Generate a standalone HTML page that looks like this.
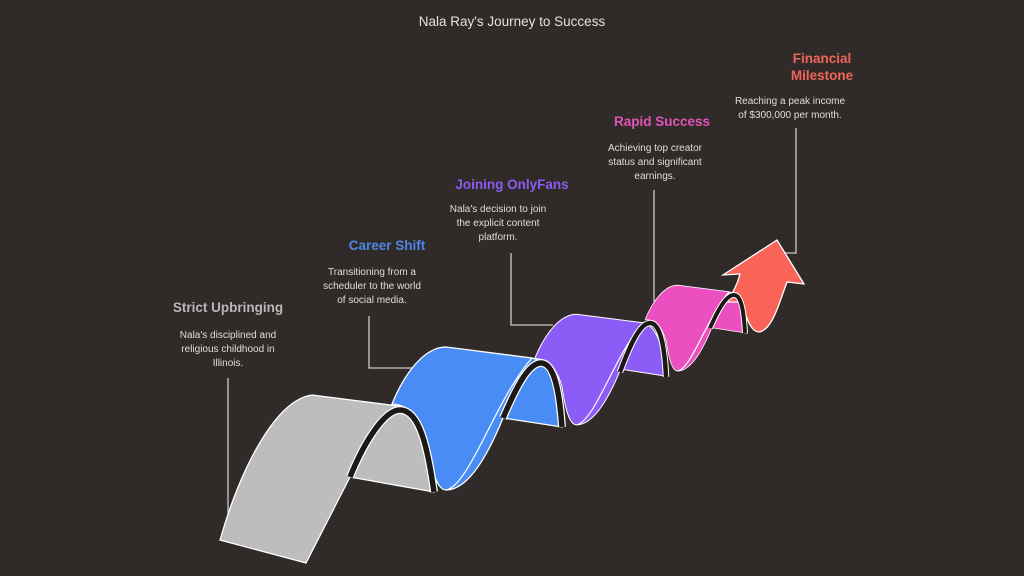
<!DOCTYPE html>
<html><head><meta charset="utf-8"><style>
html,body{margin:0;padding:0;background:#302a28;}
svg{display:block;font-family:"Liberation Sans",sans-serif;}
.d{fill:#e0dcd8;font-size:10px;text-anchor:middle;}
.h{font-size:13.5px;font-weight:bold;text-anchor:middle;}
.l{stroke:#cfcac6;stroke-width:1.3;fill:none;}
.aw{fill:none;stroke:#fff;stroke-width:8;}
.ad{fill:none;stroke:#1c1917;stroke-width:5.5;}
</style></head><body>
<svg width="1024" height="576" viewBox="0 0 1024 576">
<rect width="1024" height="576" fill="#302a28"/>
<text x="512" y="26" fill="#e6e2de" font-size="13.5" text-anchor="middle">Nala Ray's Journey to Success</text>

<path class="l" d="M228,378 L228,532"/>
<path class="l" d="M369,316 L369,368 L415,368"/>
<path class="l" d="M511,253 L511,325 L553,325"/>
<path class="l" d="M654,190 L654,302"/>
<path class="l" d="M796,128 L796,253 L778,253"/>

<text class="h" x="228" y="312" fill="#b8b8b8">Strict Upbringing</text>
<text class="d" x="228" y="338">Nala's disciplined and</text>
<text class="d" x="228" y="352">religious childhood in</text>
<text class="d" x="228" y="366">Illinois.</text>

<text class="h" x="387" y="250" fill="#4d86e8">Career Shift</text>
<text class="d" x="372" y="275">Transitioning from a</text>
<text class="d" x="372" y="289">scheduler to the world</text>
<text class="d" x="372" y="303">of social media.</text>

<text class="h" x="512" y="189" fill="#8a5cf0">Joining OnlyFans</text>
<text class="d" x="498" y="212">Nala's decision to join</text>
<text class="d" x="498" y="226">the explicit content</text>
<text class="d" x="498" y="240">platform.</text>

<text class="h" x="662" y="126" fill="#e354bb">Rapid Success</text>
<text class="d" x="655" y="151">Achieving top creator</text>
<text class="d" x="655" y="165">status and significant</text>
<text class="d" x="655" y="179">earnings.</text>

<text class="h" x="822" y="63" fill="#f2645a">Financial</text>
<text class="h" x="822" y="80" fill="#f2645a">Milestone</text>
<text class="d" x="790" y="104">Reaching a peak income</text>
<text class="d" x="790" y="118">of $300,000 per month.</text>

<defs>
<path id="rib" d="M392,404 C405,372 425,347 446,347 L532,358 C552,362 560,400 562,427 L503,418 C490,450 470,490 446,490 C435,490 430,460 427,440 C420,415 408,405 392,404 Z"/>
<path id="fr" d="M446,490 C470,485 495,400 532,358"/>
</defs>

<!-- gray -->
<path d="M220,540 C240,470 275,400 312,395 L398,406 C420,410 428,450 434,492 L350,477 L306,563 Z" fill="#bdbdbd" stroke="#fff" stroke-width="1.3"/>

<!-- blue -->
<use href="#rib" fill="#4a8cf5" stroke="#fff" stroke-width="1.3"/>
<use href="#fr" fill="none" stroke="#fff" stroke-width="1.2"/>
<path class="aw" d="M350,477 C365,440 385,410 400,410 C420,410 428,450 434,492"/>
<path class="ad" d="M350,477 C365,440 385,410 400,410 C420,410 428,450 434,492"/>

<!-- purple -->
<g transform="translate(541,363) scale(0.773) translate(-400,-410)">
<use href="#rib" fill="#8b5cf6" stroke="#fff" stroke-width="1.3" vector-effect="non-scaling-stroke"/>
<use href="#fr" fill="none" stroke="#fff" stroke-width="1.5"/>
</g>
<path class="aw" d="M503,418 C515,390 528,363 541,363 C556,363 560,400 562,427" stroke-width="7"/>
<path class="ad" d="M503,418 C515,390 528,363 541,363 C556,363 560,400 562,427" stroke-width="5"/>

<!-- pink -->
<g transform="translate(650,323) scale(0.6) translate(-400,-410)">
<use href="#rib" fill="#ec50c0" stroke="#fff" stroke-width="1.3" vector-effect="non-scaling-stroke"/>
<use href="#fr" fill="none" stroke="#fff" stroke-width="2"/>
</g>
<path class="aw" d="M620,372 C630,345 640,323 650,323 C662,323 665,355 666,377" style="stroke-width:6.5"/>
<path class="ad" d="M620,372 C630,345 640,323 650,323 C662,323 665,355 666,377" style="stroke-width:4.5"/>

<!-- red arrow -->
<path d="M726,302 C734,292 738,282 740,274 L723,275 L777,240 L804,284 L787,282 C780,300 773,330 759,332 C749,332 746,312 740,302 Z" fill="#fa6458" stroke="#fff" stroke-width="1.3"/>
<path class="aw" d="M710,328 C718,310 726,295 734,295 C742,295 744,315 745,333" style="stroke-width:6"/>
<path class="ad" d="M710,328 C718,310 726,295 734,295 C742,295 744,315 745,333" style="stroke-width:4"/>
</svg>
</body></html>
